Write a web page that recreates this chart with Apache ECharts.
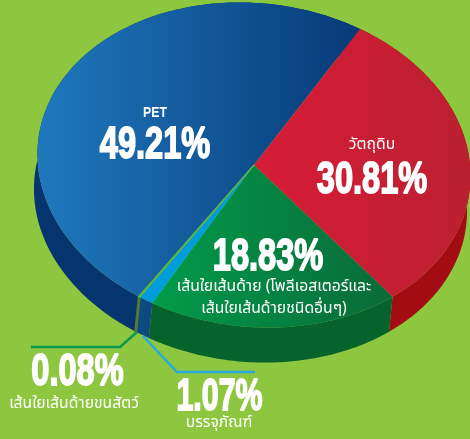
<!DOCTYPE html>
<html><head><meta charset="utf-8">
<style>html,body{margin:0;padding:0;background:#8dc63f}#c{width:470px;height:439px}</style>
<script src="https://cdn.jsdelivr.net/npm/echarts@6/dist/echarts.min.js"></script>
</head><body><div id="c"></div>
<script>
const categories = ['PET','วัตถุดิบ','เส้นใยเส้นด้าย (โพลีเอสเตอร์และ\nเส้นใยเส้นด้ายชนิดอื่นๆ)','บรรจุภัณฑ์','เส้นใยเส้นด้ายขนสัตว์'];
const shares = [49.21,30.81,18.83,1.07,0.08];
const shareLabels = ['49.21%','30.81%','18.83%','1.07%','0.08%'];
const topStops = [
 ['#1f78bd','#063a78'],['#d81c37','#ba2030'],['#019b4a','#0a6a38'],['#009ddc','#009ddc'],['#5cb443','#5cb443']
];
const wallColors = ['#06346f','#a30c13','#05632b','#0c4a80','#55792e'];

const C=[254,165], A=[216.5,7.6], B=[4.5,162.4], D=[-3.5,35], START=213.34;
function pt(deg,off){const r=deg*Math.PI/180,s=Math.sin(r),c=-Math.cos(r);
 return [C[0]+A[0]*s+B[0]*c+(off?D[0]:0), C[1]+A[1]*s+B[1]*c+(off?D[1]:0)];}
const total=shares.reduce((a,b)=>a+b,0);
function range(i){let a=START;for(let k=0;k<i;k++)a+=shares[k]/total*360;return [a,a+shares[i]/total*360];}
function arc(a0,a1,off){const n=Math.max(2,Math.ceil(Math.abs(a1-a0)));const o=[];
 for(let k=0;k<=n;k++)o.push(pt(a0+(a1-a0)*k/n,off));return o;}
function grad(st,pts){const xs=pts.map(p=>p[0]);return new echarts.graphic.LinearGradient(Math.min(...xs),0,Math.max(...xs),0,[{offset:0,color:st[0]},{offset:1,color:st[1]}],true);}

const rows=shares.map((v,i)=>({name:categories[i],value:v}));
const chart=echarts.init(document.getElementById('c'),null,{renderer:'canvas'});

function bigText(txt,x,y,sx){return {type:'text',x:x,y:y,scaleX:sx||0.74,z:10,style:{text:txt,fill:'#fff',font:'bold 44px "Liberation Sans",sans-serif',align:'center',verticalAlign:'middle',stroke:'#fff',lineWidth:1.8}};}
function smallText(txt,x,y,lh){return {type:'text',x:x,y:y,z:10,style:{text:txt,fill:'#fff',font:'15.7px "Noto Sans Thai","Noto Sans","Open Sans",sans-serif',align:'center',verticalAlign:'middle',lineHeight:lh||20}};}

chart.setOption({
 animation:false,
 backgroundColor:'#8dc63f',
 series:[
  {type:'custom',coordinateSystem:'none',z:1,silent:true,data:rows,
   renderItem:(p,api)=>{const i=p.dataIndex,[a,b]=range(i);
     const pts=arc(a,b,false).concat(arc(b,a,true));
     return {type:'polygon',shape:{points:pts},style:{fill:wallColors[i],stroke:i===4?wallColors[i]:null,lineWidth:i===4?2:0}};}},
  {type:'custom',coordinateSystem:'none',z:2,silent:true,data:rows,
   renderItem:(p,api)=>{const i=p.dataIndex,[a,b]=range(i);
     const pts=[C].concat(arc(a,b,false));
     return {type:'polygon',shape:{points:pts},style:{fill:grad(topStops[i],pts),stroke:i===4?topStops[i][0]:null,lineWidth:i===4?1.5:0}};}}
 ],
 graphic:[
  {type:'polyline',z:9,shape:{points:[[31,347],[120,347],[137,332]]},style:{stroke:'#0b9a4b',lineWidth:2.5,fill:null}},
  {type:'polyline',z:9,shape:{points:[[143,336],[177,372],[255,372]]},style:{stroke:'#29abe2',lineWidth:2.5,fill:null}},
  {type:'text',x:155,y:113,scaleX:0.82,z:10,style:{text:categories[0],fill:'#fff',font:'bold 15px "Liberation Sans",sans-serif',align:'center',verticalAlign:'middle'}},
  bigText(shareLabels[0],155,146),
  smallText(categories[1],372,146),
  bigText(shareLabels[1],372,181),
  bigText(shareLabels[2],268,258),
  smallText(categories[2],274,299,22),
  bigText(shareLabels[3],219.5,397.5,0.69),
  smallText(categories[3],219,424),
  bigText(shareLabels[4],77.5,373),
  smallText(categories[4],74,405)
 ]
});
</script></body></html>
